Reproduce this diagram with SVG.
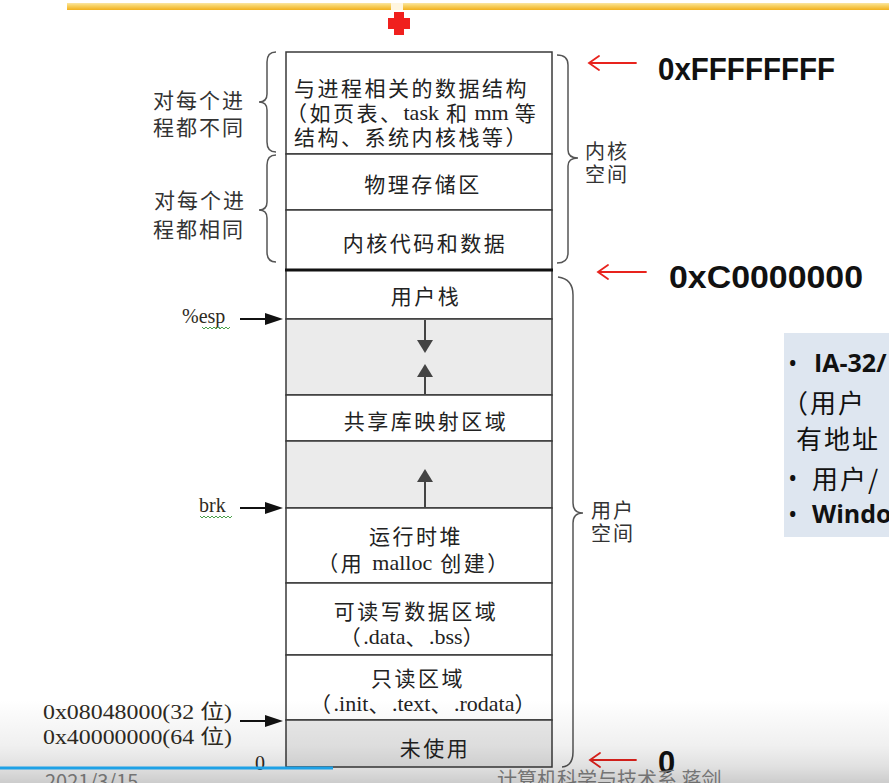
<svg xmlns="http://www.w3.org/2000/svg" width="889" height="783" viewBox="0 0 889 783">
  <defs>
    <linearGradient id="goldBar" x1="0" y1="0" x2="0" y2="1">
      <stop offset="0" stop-color="#fbe6a2"/>
      <stop offset="0.35" stop-color="#f8d46a"/>
      <stop offset="1" stop-color="#f2b01c"/>
    </linearGradient>
    <linearGradient id="playerShade" x1="0" y1="0" x2="0" y2="1">
      <stop offset="0" stop-color="#000" stop-opacity="0"/>
      <stop offset="0.55" stop-color="#000" stop-opacity="0.06"/>
      <stop offset="0.8" stop-color="#000" stop-opacity="0.12"/>
      <stop offset="1" stop-color="#000" stop-opacity="0.2"/>
    </linearGradient>
  </defs>
  <style>
    .cell { fill: #ffffff; stroke: #3a3a3a; stroke-width: 1.5; }
    .gap { fill: #ebebeb; stroke: #3a3a3a; stroke-width: 1.5; }
    .cjk { font-family: "Noto Sans CJK SC", "Noto Sans", sans-serif; font-size: 21px; fill: #222; dominant-baseline: central; letter-spacing: 2.5px; }
    .mid { text-anchor: middle; }
    .ser { font-family: "Liberation Serif", "Noto Sans CJK SC", serif; font-size: 22px; letter-spacing: 0; }
    .side { font-family: "Noto Sans CJK SC", sans-serif; font-size: 21px; fill: #333; letter-spacing: 2px; dominant-baseline: central; }
    .side2 { font-family: "Noto Sans CJK SC", sans-serif; font-size: 20px; fill: #333; letter-spacing: 2px; dominant-baseline: central; }
    .brace { fill: none; stroke: #555; stroke-width: 1.5; }
    .red { fill: none; stroke: #e8231d; stroke-width: 1.8; stroke-linecap: round; }
    .addr { font-family: "Liberation Sans", sans-serif; font-weight: bold; font-size: 31px; fill: #111; }
    .ptr { stroke: #111; stroke-width: 2; }
    .ptrHead { fill: #111; }
    .grow { stroke: #444; stroke-width: 2; }
    .growHead { fill: #444; }
    .lbl { font-family: "Liberation Serif", "Noto Sans CJK SC", serif; font-size: 20px; fill: #2e2a22; }
    .squig { fill: none; stroke: #4aa04a; stroke-width: 1; }
    .note { font-family: "Open Sans", "Noto Sans CJK SC", sans-serif; font-size: 25px; fill: #111; dominant-baseline: central; }
    .noteCjk { font-family: "Noto Sans CJK SC", sans-serif; font-size: 26px; fill: #111; letter-spacing: 2px; dominant-baseline: central; }
    .foot { font-family: "Noto Sans CJK SC", sans-serif; font-size: 20px; fill: #8a8a8a; }
  </style>

  <rect width="889" height="783" fill="#ffffff"/>

  <!-- slide header bar and marker -->
  <rect x="67" y="3" width="822" height="7" fill="url(#goldBar)"/>
  <rect x="391" y="3" width="12" height="7" fill="#fff6e0"/>
  <g fill="#f0201e">
    <rect x="394" y="12" width="10" height="23"/>
    <rect x="388" y="18" width="22" height="11"/>
  </g>

  <!-- kernel space cells -->
  <g id="kernel-process-data">
    <rect class="cell" x="286" y="52" width="266" height="102"/>
    <text class="cjk" x="294" y="87">与进程相关的数据结构</text>
    <text class="cjk" x="286" y="112">（如页表、<tspan class="ser">task</tspan><tspan dx="7">和</tspan><tspan class="ser" dx="5">mm</tspan><tspan dx="6">等</tspan></text>
    <text class="cjk" x="294" y="136">结构、系统内核栈等）</text>
  </g>
  <g id="kernel-physical-memory">
    <rect class="cell" x="286" y="154" width="266" height="56"/>
    <text class="cjk mid" x="423" y="183">物理存储区</text>
  </g>
  <g id="kernel-code-data">
    <rect class="cell" x="286" y="210" width="266" height="60"/>
    <text class="cjk mid" x="425" y="242">内核代码和数据</text>
  </g>

  <!-- user space cells -->
  <g id="user-stack">
    <rect class="cell" x="286" y="270" width="266" height="49"/>
    <text class="cjk mid" x="426" y="295">用户栈</text>
  </g>
  <g id="stack-gap">
    <rect class="gap" x="286" y="319" width="266" height="76"/>
  </g>
  <g id="shared-libraries">
    <rect class="cell" x="286" y="395" width="266" height="46"/>
    <text class="cjk mid" x="426" y="420">共享库映射区域</text>
  </g>
  <g id="heap-gap">
    <rect class="gap" x="286" y="441" width="266" height="67"/>
  </g>
  <g id="runtime-heap">
    <rect class="cell" x="286" y="508" width="266" height="75"/>
    <text class="cjk mid" x="416" y="535">运行时堆</text>
    <text class="cjk mid" x="414" y="562">（用<tspan class="ser" dx="8">malloc</tspan><tspan dx="8">创建）</tspan></text>
  </g>
  <g id="rw-data">
    <rect class="cell" x="286" y="583" width="266" height="72"/>
    <text class="cjk mid" x="416" y="610">可读写数据区域</text>
    <text class="cjk mid" x="413" y="636">（<tspan class="ser">.data</tspan><tspan>、</tspan><tspan class="ser">.bss</tspan><tspan>）</tspan></text>
  </g>
  <g id="ro-data">
    <rect class="cell" x="286" y="655" width="266" height="65"/>
    <text class="cjk mid" x="418" y="677">只读区域</text>
    <text class="cjk mid" x="424" y="703">（<tspan class="ser">.init</tspan><tspan>、</tspan><tspan class="ser">.text</tspan><tspan>、</tspan><tspan class="ser">.rodata</tspan><tspan>）</tspan></text>
  </g>
  <g id="unused">
    <rect class="gap" x="286" y="720" width="266" height="47"/>
    <text class="cjk mid" x="435" y="747">未使用</text>
  </g>
  <!-- kernel / user boundary -->
  <line x1="285" y1="270" x2="553" y2="270" stroke="#111" stroke-width="3"/>

  <!-- left braces -->
  <g id="per-process-different">
    <path class="brace" d="M276 52 Q267 52 267 62 L267 94 Q267 102 259 102 Q267 102 267 110 L267 142 Q267 152 276 152"/>
    <text class="side" x="153" y="99">对每个进</text>
    <text class="side" x="153" y="126">程都不同</text>
  </g>
  <g id="per-process-same">
    <path class="brace" d="M276 155 Q267 155 267 165 L267 202 Q267 210 259 210 Q267 210 267 218 L267 252 Q267 262 276 262"/>
    <text class="side" x="154" y="199">对每个进</text>
    <text class="side" x="153" y="228">程都相同</text>
  </g>

  <!-- right braces -->
  <g id="kernel-space">
    <path class="brace" d="M557 55 Q568 55 568 65 L568 150 Q568 158 578 158 Q568 158 568 166 L568 253 Q568 263 557 263"/>
    <text class="side2" x="585" y="150">内核</text>
    <text class="side2" x="585" y="173">空间</text>
  </g>
  <g id="user-space">
    <path class="brace" d="M558 277 Q573 279 573 295 L573 503 Q573 513 583 513 Q573 513 573 523 L573 752 Q573 766 562 767"/>
    <text class="side2" x="591" y="509">用户</text>
    <text class="side2" x="591" y="532">空间</text>
  </g>

  <!-- address values -->
  <g id="addr-top">
    <text class="addr" x="658" y="80" textLength="177" lengthAdjust="spacingAndGlyphs">0xFFFFFFFF</text>
  </g>
  <g id="addr-kernel-base">
    <text class="addr" x="669" y="288" textLength="194" lengthAdjust="spacingAndGlyphs">0xC0000000</text>
  </g>
  <g id="addr-zero">
    <text class="addr" x="658" y="773">0</text>
  </g>

  <!-- pointer labels -->
  <g id="esp-label">
    <text class="lbl" x="182" y="323" font-size="21">%esp</text>
    <path class="squig" d="M202 327 l2 2 l2 -2 l2 2 l2 -2 l2 2 l2 -2 l2 2 l2 -2 l2 2 l2 -2 l2 2 l2 -2 l2 2 l2 -2"/>
  </g>
  <g id="brk-label">
    <text class="lbl" x="199" y="512" font-size="21">brk</text>
    <path class="squig" d="M200 516 l2 2 l2 -2 l2 2 l2 -2 l2 2 l2 -2 l2 2 l2 -2 l2 2 l2 -2 l2 2 l2 -2 l2 2 l2 -2 l2 2 l2 -2"/>
  </g>
  <g id="text-start-label">
    <text class="lbl" x="43" y="719" textLength="189" lengthAdjust="spacingAndGlyphs">0x08048000(32 位)</text>
    <text class="lbl" x="43" y="744" textLength="189" lengthAdjust="spacingAndGlyphs">0x40000000(64 位)</text>
  </g>
  <g id="zero-label">
    <text class="lbl" x="255" y="770" font-size="19">0</text>
  </g>

  <!-- connectors -->
  <g id="connectors">
    <!-- pointers into the layout -->
    <line class="ptr" x1="240" y1="319" x2="268" y2="319"/>
    <polygon class="ptrHead" points="265,313 283,319 265,325"/>
    <line class="ptr" x1="240" y1="508" x2="268" y2="508"/>
    <polygon class="ptrHead" points="265,502 283,508 265,514"/>
    <line class="ptr" x1="240" y1="721" x2="268" y2="721"/>
    <polygon class="ptrHead" points="265,715 283,721 265,727"/>

    <!-- growth directions -->
    <line class="grow" x1="425" y1="320" x2="425" y2="342"/>
    <polygon class="growHead" points="417,340 433,340 425,353"/>
    <line class="grow" x1="425" y1="375" x2="425" y2="395"/>
    <polygon class="growHead" points="425,364 417,377 433,377"/>
    <line class="grow" x1="425" y1="480" x2="425" y2="508"/>
    <polygon class="growHead" points="425,469 417,482 433,482"/>

    <!-- address markers -->
    <path class="red" d="M636 63 L589 63 M599 56 L589 63 L599 70"/>
    <path class="red" d="M646 272 L598 272 M608 265 L598 272 L608 279"/>
    <path class="red" d="M636 760 L590 760 M600 753 L590 760 L600 767"/>
  </g>

  <!-- side note panel -->
  <g id="note-panel">
    <rect x="784" y="333" width="105" height="204" fill="#dee6f0"/>
    <text class="note" x="788" y="362">•</text>
    <text class="note" x="814" y="362" font-weight="bold">IA-32/</text>
    <text class="noteCjk" x="782" y="401">（用户</text>
    <text class="noteCjk" x="796" y="437">有地址</text>
    <text class="note" x="788" y="477">•</text>
    <text class="noteCjk" x="812" y="477">用户/</text>
    <text class="note" x="788" y="513">•</text>
    <text class="note" x="812" y="513" font-weight="bold">Windo</text>
  </g>

  <!-- slide footer, partly below the frame -->
  <text class="foot" x="45" y="789" font-size="19">2021/3/15</text>
  <text class="foot" x="497" y="787">计算机科学与技术系 蒋剑</text>

  <!-- player shading and progress bar -->
  <rect x="0" y="700" width="889" height="83" fill="url(#playerShade)"/>
  <rect x="0" y="766.5" width="333" height="3" fill="#1ea1e6"/>
</svg>
